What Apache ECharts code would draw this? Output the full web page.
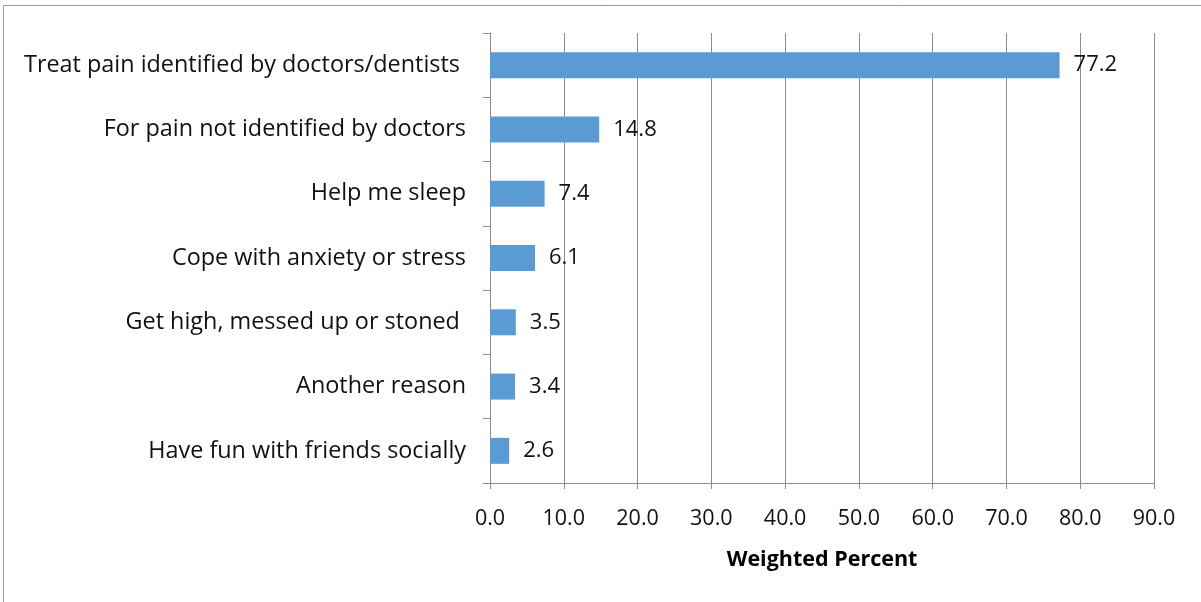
<!DOCTYPE html>
<html>
<head>
<meta charset="utf-8">
<script src="https://cdn.jsdelivr.net/npm/echarts@6/dist/echarts.min.js"></script>
<style>
  html, body { margin: 0; padding: 0; background: #fff; }
  #chart { width: 1201px; height: 602px; }
</style>
</head>
<body>
<div id="chart"></div>
<script>
// Reasons for misuse, listed top to bottom
const categories = [
  'Treat pain identified by doctors/dentists ',
  'For pain not identified by doctors',
  'Help me sleep',
  'Cope with anxiety or stress',
  'Get high, messed up or stoned ',
  'Another reason',
  'Have fun with friends socially'
];
const weightedPercent = [77.2, 14.8, 7.4, 6.1, 3.5, 3.4, 2.6];
const xTicks = [0, 10, 20, 30, 40, 50, 60, 70, 80, 90];

const FONT = '"Open Sans"';

const chart = echarts.init(document.getElementById('chart'), null, { renderer: 'canvas' });
chart.setOption({
  animation: false,
  backgroundColor: '#fff',
  graphic: [{
    type: 'rect',
    shape: { x: 3.5, y: 5.5, width: 1300, height: 700 },
    style: { fill: 'none', stroke: '#9a9a9a', lineWidth: 1 },
    silent: true
  }],
  grid: { left: 490, right: 47, top: 33, bottom: 119, containLabel: false },
  xAxis: {
    type: 'value',
    min: xTicks[0],
    max: xTicks[xTicks.length - 1],
    interval: 10,
    name: 'Weighted Percent',
    nameLocation: 'middle',
    nameGap: 66,
    nameTextStyle: { fontFamily: FONT, fontSize: 21.5, fontWeight: 'bold', color: '#000' },
    axisLine: { show: true, lineStyle: { color: '#8c8c8c', width: 1 } },
    axisTick: { show: true, length: 6, lineStyle: { color: '#8c8c8c' } },
    axisLabel: {
      fontFamily: FONT, fontSize: 21.5, color: '#111', margin: 25,
      formatter: v => v.toFixed(1)
    },
    splitLine: { show: true, lineStyle: { color: '#8c8c8c', width: 1 } }
  },
  yAxis: {
    type: 'category',
    data: categories,
    inverse: true,
    axisLine: { show: true, lineStyle: { color: '#8c8c8c', width: 1 } },
    axisTick: { show: true, length: 7, lineStyle: { color: '#8c8c8c' } },
    axisLabel: { fontFamily: FONT, fontSize: 23.4, color: '#111', margin: 24 }
  },
  series: [{
    type: 'bar',
    data: weightedPercent,
    barWidth: 26,
    itemStyle: { color: '#5b9bd5' },
    label: {
      show: true,
      position: 'right',
      distance: 14,
      fontFamily: FONT,
      fontSize: 22,
      color: '#111',
      formatter: p => p.value.toFixed(1)
    }
  }]
});
</script>
</body>
</html>
